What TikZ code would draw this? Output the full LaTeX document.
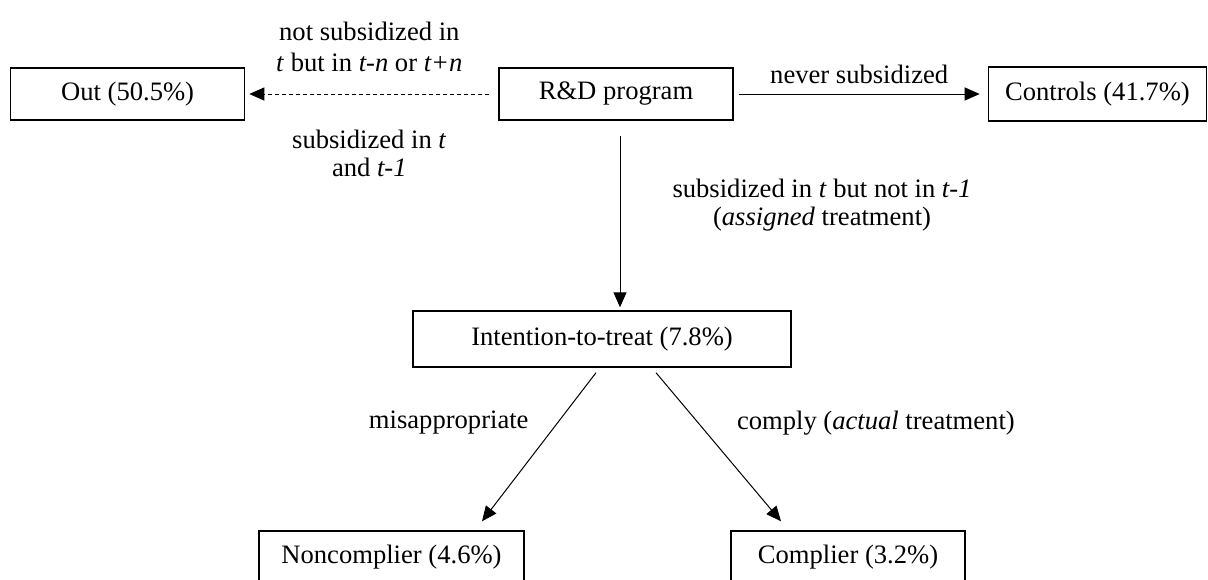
\documentclass[tikz,border=0pt]{standalone}
\usepackage{fontspec}
\setmainfont{Liberation Serif}
\usetikzlibrary{positioning,arrows.meta}

\begin{document}
\begin{tikzpicture}[
  x=0.5pt, y=-0.5pt,
  font=\fontsize{13.3}{14}\selectfont,
  node distance=126.5pt,
  group/.style={rectangle, draw, line width=0.7pt, minimum height=26pt, inner sep=0pt},
  flow/.style={-{Triangle[length=7.5pt,width=6.5pt]}, line width=0.5pt},
  flow-label/.style={align=center, inner sep=0pt}
]
  \clip (0,0) rectangle (1208,579);

  \node (rd) at (616,94) [group, minimum width=117pt] {R\&D program};
  \node (out) [left=of rd, group, minimum width=117pt] {Out (50.5\%)};
  \node (controls) [right=127pt of rd, group, minimum width=109pt, minimum height=27pt] {Controls (41.7\%)};

  \node (itt) at (602,339) [group, minimum width=189pt, minimum height=28pt] {Intention-to-treat (7.8\%)};
  \node (noncomplier) at (391.5,557) [group, minimum width=132.5pt] {Noncomplier (4.6\%)};
  \node (complier) at (848,557) [group, minimum width=117pt] {Complier (3.2\%)};

  \draw[flow, dash pattern=on 2pt off 1.5pt] ([xshift=-4.5pt]rd.west) -- ([xshift=2pt]out.east)
    node[flow-label, midway, above=11pt, font=\fontsize{13.3}{15.5}\selectfont] {not subsidized in\\\textit{t} but in \textit{t-n} or \textit{t+n}}
    node[flow-label, midway, below=18pt] {subsidized in \textit{t}\\and \textit{t-1}};
  \draw[flow] ([xshift=2.5pt]rd.east) -- ([xshift=-4pt]controls.west)
    node[flow-label, midway, above=5pt] {never subsidized};
  \draw[flow] ([xshift=2pt,yshift=-7.5pt]rd.south) -- ([xshift=9pt,yshift=1.5pt]itt.north)
    node[flow-label, midway, right=26pt, yshift=8pt] {subsidized in \textit{t} but not in \textit{t-1}\\(\textit{assigned} treatment)};

  \draw[flow] ([xshift=-3pt,yshift=-2.5pt]itt.south) -- ([xshift=45.25pt,yshift=4.5pt]noncomplier.north)
    node[flow-label, midway, left=5pt, yshift=12pt] {misappropriate};
  \draw[flow] ([xshift=27pt,yshift=-2.5pt]itt.south) -- ([xshift=-33.5pt,yshift=4.5pt]complier.north)
    node[flow-label, midway, right=9pt, yshift=12pt] {comply (\textit{actual} treatment)};

\end{tikzpicture}
\end{document}
